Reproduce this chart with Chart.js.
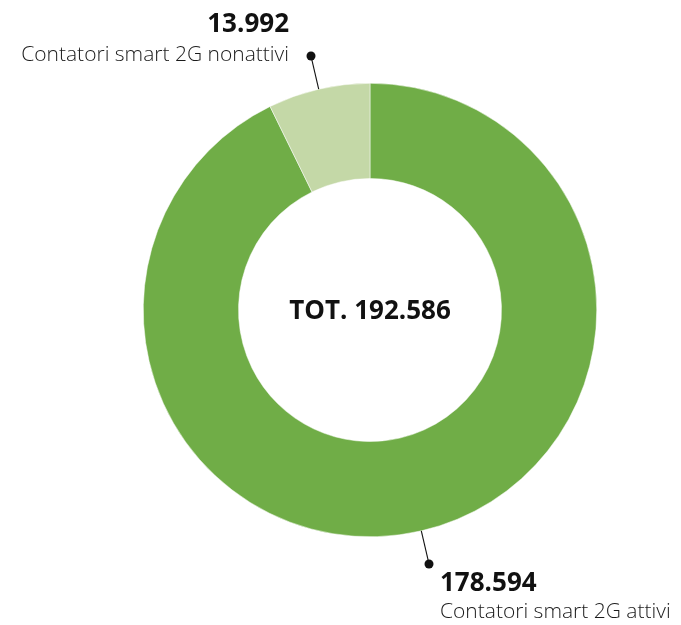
<!DOCTYPE html>
<html lang="it">
<head>
<meta charset="utf-8">
<title>Contatori smart 2G</title>
<script src="https://cdn.jsdelivr.net/npm/chart.js@4.4.1/dist/chart.umd.min.js"></script>
<style>
  html, body { margin: 0; padding: 0; background: #ffffff; }
  #wrap { width: 681px; height: 625px; }
</style>
</head>
<body>
<div id="wrap"><canvas id="contatori" width="681" height="625"></canvas></div>
<script>
// Dati dei contatori
const categorie = ['Contatori smart 2G attivi', 'Contatori smart 2G nonattivi'];
const valori = [178594, 13992];
const etichetteValori = ['178.594', '13.992'];
const totale = 'TOT. 192.586';
const colori = ['#70ad47', '#c4d8a7'];

const FONT = '"Open Sans", "Noto Sans", sans-serif';

// Testo al centro della ciambella
const testoCentrale = {
    id: 'testoCentrale',
    afterDraw(chart) {
        const { ctx, chartArea } = chart;
        const cx = (chartArea.left + chartArea.right) / 2;
        const cy = (chartArea.top + chartArea.bottom) / 2;
        ctx.save();
        ctx.fillStyle = '#111111';
        ctx.font = 'bold 26px ' + FONT;
        ctx.textAlign = 'center';
        ctx.textBaseline = 'alphabetic';
        ctx.fillText(totale, cx, cy + 9);
        ctx.restore();
    }
};

// Linee guida radiali con pallino e etichette esterne
const etichetteEsterne = {
    id: 'etichetteEsterne',
    afterDraw(chart) {
        const { ctx } = chart;
        const archi = chart.getDatasetMeta(0).data;
        archi.forEach((arco, i) => {
            const { x, y, startAngle, endAngle, outerRadius } = arco.getProps(['x', 'y', 'startAngle', 'endAngle', 'outerRadius'], true);
            const medio = (startAngle + endAngle) / 2;
            const cos = Math.cos(medio), sin = Math.sin(medio);
            const x1 = x + cos * outerRadius, y1 = y + sin * outerRadius;
            const x2 = x + cos * (outerRadius + 34), y2 = y + sin * (outerRadius + 34);

            ctx.save();
            ctx.strokeStyle = '#111111';
            ctx.lineWidth = 1.1;
            ctx.beginPath();
            ctx.moveTo(x1, y1);
            ctx.lineTo(x2, y2);
            ctx.stroke();
            ctx.fillStyle = '#111111';
            ctx.beginPath();
            ctx.arc(x2, y2, 4.5, 0, Math.PI * 2);
            ctx.fill();

            ctx.textBaseline = 'alphabetic';
            if (y2 < y) {
                // etichetta in alto a sinistra del pallino
                ctx.textAlign = 'right';
                ctx.font = 'bold 26px ' + FONT;
                ctx.fillText(etichetteValori[i], x2 - 22, y2 - 24);
                ctx.fillStyle = '#1a1a1a';
                ctx.font = '300 21px ' + FONT;
                ctx.fillText(categorie[i], x2 - 22, y2 + 5);
            } else {
                // etichetta in basso a destra del pallino
                ctx.textAlign = 'left';
                ctx.font = 'bold 26px ' + FONT;
                ctx.fillText(etichetteValori[i], x2 + 11, y2 + 27);
                ctx.fillStyle = '#1a1a1a';
                ctx.font = '300 21px ' + FONT;
                ctx.fillText(categorie[i], x2 + 11, y2 + 54);
            }
            ctx.restore();
        });
    }
};

new Chart(document.getElementById('contatori').getContext('2d'), {
    type: 'doughnut',
    data: {
        labels: categorie,
        datasets: [{
            data: valori,
            backgroundColor: colori,
            borderColor: '#ffffff',
            borderWidth: 0.5
        }]
    },
    options: {
        responsive: false,
        animation: false,
        cutout: '58%',
        layout: { padding: { left: 143, right: 84, top: 83, bottom: 88 } },
        plugins: {
            legend: { display: false },
            tooltip: { enabled: false }
        }
    },
    plugins: [testoCentrale, etichetteEsterne]
});
</script>
</body>
</html>
